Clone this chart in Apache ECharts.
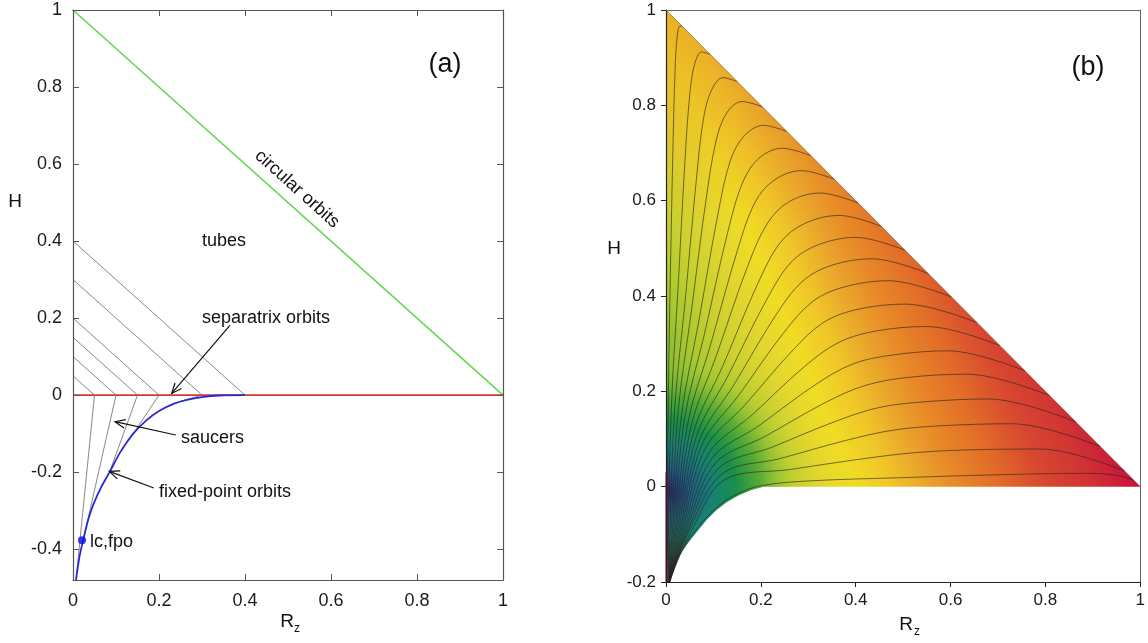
<!DOCTYPE html>
<html>
<head>
<meta charset="utf-8">
<title>Orbit families in the (Rz, H) plane</title>
<script src="https://cdn.jsdelivr.net/npm/echarts@6.0.0/dist/echarts.min.js"></script>
<style>
  html, body { margin: 0; padding: 0; background: #fff; }
  #main { width: 1148px; height: 643px; }
</style>
</head>
<body>
<div id="main"></div>
<script>
// ---- panel (a) ----
var circularOrbits = [[0, 1], [1, 0]];
var zeroLine = [[0, 0], [1, 0]];
var separatrixLevels = [0.05, 0.1, 0.15, 0.2, 0.3, 0.4];   // H where each separatrix leaves the axis
var saucerEnds = [[0.007, -0.48], [0.024, -0.375], [0.085, -0.2], [0.14, -0.1], [0.25, -0.016]];
var fixedPointCurve = [[0.007, -0.48], [0.015, -0.42], [0.024, -0.375], [0.035, -0.325], [0.047, -0.285],
    [0.065, -0.24], [0.085, -0.2], [0.11, -0.148], [0.14, -0.1], [0.17, -0.066], [0.2, -0.041],
    [0.235, -0.022], [0.265, -0.012], [0.3, -0.005], [0.34, -0.001], [0.4, 0]];
var lcFpo = [[0.021, -0.377]];
// arrows: tail x, tail y, tip x, tip y
var arrows = [[0.365, 0.181, 0.2295, 0.0044], [0.239, -0.1035, 0.0977, -0.069], [0.188, -0.241, 0.0844, -0.198]];
var ticksA = [-0.4, -0.2, 0, 0.2, 0.4, 0.6, 0.8, 1];

// ---- panel (b) ----
var regionEdge = [[0, 1], [1, 0], [0.205, 0], [0.18, -0.007], [0.153, -0.018], [0.128, -0.032], [0.105, -0.05],
    [0.085, -0.07], [0.067, -0.092], [0.05, -0.113], [0.035, -0.134], [0.025, -0.152], [0.017, -0.172],
    [0.012, -0.187], [0.009, -0.2], [0, -0.2]];
var hypEdge = [[0, 1], [1, 0]];
var edgeStrip = [[0.002, 0.03], [0.002, -0.2]];
var contours = [
    [[0.007, -0.2], [0.003, -0.1], [0.005, 0.194], [0.009, 0.436], [0.015, 0.726], [0.019, 0.871], [0.023, 0.939], [0.029, 0.966], [0.034, 0.966]],
    [[0.007, -0.2], [0.0055, -0.1], [0.012, 0.182], [0.025, 0.41], [0.040, 0.684], [0.050, 0.821], [0.060, 0.885], [0.075, 0.912], [0.093, 0.907]],
    [[0.007, -0.2], [0.008, -0.1], [0.019, 0.172], [0.040, 0.386], [0.064, 0.644], [0.079, 0.772], [0.096, 0.832], [0.120, 0.858], [0.150, 0.850]],
    [[0.007, -0.2], [0.0105, -0.1], [0.026, 0.162], [0.053, 0.364], [0.085, 0.606], [0.106, 0.727], [0.128, 0.784], [0.160, 0.808], [0.203, 0.797]],
    [[0.007, -0.2], [0.013, -0.1], [0.033, 0.152], [0.068, 0.341], [0.109, 0.569], [0.135, 0.682], [0.164, 0.735], [0.205, 0.758], [0.255, 0.745]],
    [[0.007, -0.2], [0.0155, -0.1], [0.039, 0.142], [0.081, 0.320], [0.130, 0.533], [0.162, 0.639], [0.196, 0.689], [0.245, 0.710], [0.306, 0.694]],
    [[0.007, -0.2], [0.018, -0.1], [0.046, 0.133], [0.094, 0.298], [0.151, 0.497], [0.188, 0.597], [0.228, 0.643], [0.285, 0.663], [0.355, 0.645]],
    [[0.007, -0.2], [0.0205, -0.1], [0.052, 0.123], [0.107, 0.277], [0.172, 0.462], [0.215, 0.554], [0.260, 0.598], [0.325, 0.616], [0.405, 0.595]],
    [[0.007, -0.2], [0.023, -0.1], [0.058, 0.114], [0.121, 0.256], [0.194, 0.427], [0.241, 0.512], [0.292, 0.552], [0.365, 0.569], [0.454, 0.546]],
    [[0.007, -0.2], [0.0255, -0.1], [0.064, 0.105], [0.132, 0.235], [0.212, 0.392], [0.264, 0.471], [0.320, 0.507], [0.400, 0.523], [0.504, 0.496]],
    [[0.007, -0.2], [0.028, -0.1], [0.070, 0.096], [0.144, 0.215], [0.231, 0.359], [0.287, 0.430], [0.348, 0.464], [0.435, 0.478], [0.553, 0.447]],
    [[0.007, -0.2], [0.0305, -0.1], [0.075, 0.086], [0.155, 0.194], [0.249, 0.324], [0.310, 0.389], [0.376, 0.419], [0.470, 0.432], [0.602, 0.398]],
    [[0.007, -0.2], [0.033, -0.1], [0.081, 0.077], [0.167, 0.172], [0.268, 0.287], [0.333, 0.345], [0.404, 0.372], [0.505, 0.383], [0.656, 0.344]],
    [[0.007, -0.2], [0.0355, -0.1], [0.088, 0.067], [0.182, 0.151], [0.292, 0.252], [0.363, 0.302], [0.440, 0.326], [0.550, 0.336], [0.704, 0.296]],
    [[0.007, -0.2], [0.038, -0.1], [0.095, 0.057], [0.196, 0.128], [0.315, 0.214], [0.393, 0.257], [0.476, 0.276], [0.595, 0.285], [0.757, 0.243]],
    [[0.007, -0.2], [0.0405, -0.1], [0.102, 0.047], [0.210, 0.106], [0.337, 0.177], [0.419, 0.212], [0.508, 0.229], [0.635, 0.236], [0.809, 0.191]],
    [[0.007, -0.2], [0.043, -0.1], [0.109, 0.037], [0.224, 0.083], [0.360, 0.138], [0.449, 0.166], [0.544, 0.178], [0.680, 0.184], [0.864, 0.136]],
    [[0.007, -0.2], [0.0455, -0.1], [0.117, 0.026], [0.241, 0.059], [0.387, 0.099], [0.482, 0.119], [0.584, 0.128], [0.730, 0.132], [0.916, 0.084]],
    [[0.007, -0.2], [0.05, -0.10], [0.126, 0.016], [0.261, 0.036], [0.419, 0.059], [0.521, 0.071], [0.632, 0.077], [0.790, 0.079], [0.967, 0.033]],
    [[0.009, -0.198], [0.020, -0.165], [0.037, -0.127], [0.067, -0.086], [0.105, -0.045], [0.150, -0.015], [0.200, 0.002],
     [0.300, 0.012], [0.500, 0.019], [0.700, 0.025], [0.880, 0.028], [0.950, 0.024], [0.985, 0.014]]
];

var FONT = "'Liberation Sans', Arial, Helvetica, sans-serif";

function lineSeries(ax, data, color, width, z, smooth) {
    return {
        type: 'line', xAxisIndex: ax, yAxisIndex: ax, data: data,
        symbol: 'none', smooth: smooth || false, silent: true, z: z || 3,
        lineStyle: { color: color, width: width },
        emphasis: { disabled: true }
    };
}

// filled region of panel (b), one layer per colour wash
function regionLayer(fill, z) {
    return {
        type: 'custom', xAxisIndex: 2, yAxisIndex: 2, z: z, silent: true,
        data: [[0, 0]],
        renderItem: function (params, api) {
            var pts = regionEdge.map(function (p) { return api.coord(p); });
            return { type: 'polygon', shape: { points: pts }, style: { fill: fill(api), stroke: null } };
        }
    };
}

var series = [];

// ---- panel (a) series ----
series.push(lineSeries(0, circularOrbits, '#63d84f', 1.6, 4));
series.push(lineSeries(0, zeroLine, '#d8353b', 1.6, 4));
separatrixLevels.forEach(function (h, i) {
    var pts = [[0, h], [h, 0]];
    if (i < saucerEnds.length) pts.push(saucerEnds[i]);
    series.push(lineSeries(0, pts, '#7a7a7a', 0.9, 3));
});
series.push(lineSeries(0, fixedPointCurve, '#2a2ad2', 1.8, 5, 0.3));
series.push({
    type: 'scatter', xAxisIndex: 0, yAxisIndex: 0, data: lcFpo, symbolSize: 8, z: 6, silent: true,
    itemStyle: { color: '#0b0be6' }
});
series.push({
    type: 'custom', xAxisIndex: 0, yAxisIndex: 0, z: 6, silent: true,
    data: arrows,
    renderItem: function (params, api) {
        var t = api.coord([api.value(0), api.value(1)]);
        var h = api.coord([api.value(2), api.value(3)]);
        var ang = Math.atan2(t[1] - h[1], t[0] - h[0]);
        var L = 11, w = 0.4;
        var p1 = [h[0] + L * Math.cos(ang + w), h[1] + L * Math.sin(ang + w)];
        var p2 = [h[0] + L * Math.cos(ang - w), h[1] + L * Math.sin(ang - w)];
        return {
            type: 'group', children: [
                { type: 'line', shape: { x1: t[0], y1: t[1], x2: h[0], y2: h[1] }, style: { stroke: '#111', lineWidth: 1.2 } },
                { type: 'polyline', shape: { points: [p1, h, p2] }, style: { stroke: '#111', lineWidth: 1.2, fill: null } }
            ]
        };
    }
});

// ---- panel (b) series ----
series.push(regionLayer(function (api) {
    var a = api.coord([0, 0]), b = api.coord([1, 0.42]);
    return {
        type: 'linear', x: a[0], y: a[1], x2: b[0], y2: b[1], global: true,
        colorStops: [
            { offset: 0, color: '#3a9a40' }, { offset: 0.15, color: '#a8c830' },
            { offset: 0.21, color: '#c8d030' }, { offset: 0.28, color: '#e2d62e' },
            { offset: 0.34, color: '#f0dc24' }, { offset: 0.40, color: '#f0c828' },
            { offset: 0.46, color: '#eaa82c' }, { offset: 0.52, color: '#e88a28' },
            { offset: 0.60, color: '#e26c28' }, { offset: 0.68, color: '#d84830' },
            { offset: 0.77, color: '#d03034' }, { offset: 0.85, color: '#c8103e' },
            { offset: 1, color: '#c00c3c' }
        ]
    };
}, 1));
series.push(regionLayer(function (api) {
    var a = api.coord([0, 0.55]), b = api.coord([0, 1]);
    return {
        type: 'linear', x: a[0], y: a[1], x2: b[0], y2: b[1], global: true,
        colorStops: [{ offset: 0, color: 'rgba(228,140,40,0)' }, { offset: 1, color: 'rgba(228,140,40,0.5)' }]
    };
}, 1));
series.push(regionLayer(function (api) {
    var c = api.coord([0, -0.01]), r = api.coord([0.33, 0])[0] - api.coord([0, 0])[0];
    return {
        type: 'radial', x: c[0], y: c[1], r: r, global: true,
        colorStops: [
            { offset: 0, color: '#1c2258' }, { offset: 0.05, color: '#1f3a78' },
            { offset: 0.15, color: '#1f6088' }, { offset: 0.3, color: '#168275' },
            { offset: 0.45, color: '#1a9048' }, { offset: 0.6, color: 'rgba(70,165,55,0.85)' },
            { offset: 0.8, color: 'rgba(150,200,50,0.35)' }, { offset: 1, color: 'rgba(200,210,50,0)' }
        ]
    };
}, 1));
series.push(regionLayer(function (api) {
    var c = api.coord([0, -0.2]), r = api.coord([0.12, 0])[0] - api.coord([0, 0])[0];
    return {
        type: 'radial', x: c[0], y: c[1], r: r, global: true,
        colorStops: [
            { offset: 0, color: 'rgba(40,50,120,0.85)' }, { offset: 0.5, color: 'rgba(40,95,145,0.55)' },
            { offset: 1, color: 'rgba(40,95,145,0)' }
        ]
    };
}, 1));
series.push(lineSeries(2, edgeStrip, '#7d2a55', 3, 2));
contours.forEach(function (c) {
    series.push(lineSeries(2, c, 'rgba(45,38,28,0.7)', 0.9, 4, 0.35));
});
series.push(lineSeries(2, hypEdge, 'rgba(90,55,25,0.5)', 1, 4));

function labelStyle(size) {
    return { color: '#1a1a1a', fontSize: size, fontFamily: FONT };
}

function txt(s, x, y, size, align) {
    return {
        type: 'text', x: x, y: y, z: 20,
        style: { text: s, fontSize: size, fontFamily: FONT, fill: '#111', align: align || 'center', verticalAlign: 'middle' }
    };
}

var option = {
    animation: false,
    backgroundColor: '#ffffff',
    grid: [
        { left: 73, top: 10, width: 430, height: 570 },
        { left: 666, top: 10, width: 477, height: 572 }
    ],
    xAxis: [
        {   // (a) bottom
            gridIndex: 0, type: 'value', min: 0, max: 1, interval: 0.2, position: 'bottom', z: 10,
            axisLine: { onZero: false, lineStyle: { color: '#555', width: 1.2 } },
            axisTick: { inside: true, length: 6, lineStyle: { color: '#555' } },
            axisLabel: Object.assign({ margin: 12 }, labelStyle(18)),
            splitLine: { show: false }
        },
        {   // (a) top
            gridIndex: 0, type: 'value', min: 0, max: 1, interval: 0.2, position: 'top', z: 10,
            axisLine: { onZero: false, lineStyle: { color: '#555', width: 1.2 } },
            axisTick: { inside: true, length: 6, lineStyle: { color: '#555' } },
            axisLabel: { show: false }, splitLine: { show: false }
        },
        {   // (b) bottom
            gridIndex: 1, type: 'value', min: 0, max: 1, interval: 0.2, position: 'bottom', z: 10,
            axisLine: { onZero: false, lineStyle: { color: '#222', width: 1.2 } },
            axisTick: { inside: false, length: 5, lineStyle: { color: '#222' } },
            axisLabel: Object.assign({ margin: 10 }, labelStyle(17)),
            splitLine: { show: false }
        },
        {   // (b) top
            gridIndex: 1, type: 'value', min: 0, max: 1, position: 'top', z: 10,
            axisLine: { onZero: false, lineStyle: { color: '#666', width: 1 } },
            axisTick: { show: false }, axisLabel: { show: false }, splitLine: { show: false }
        }
    ],
    yAxis: [
        {   // (a) left
            gridIndex: 0, type: 'value', min: -0.48, max: 1, position: 'left', z: 10,
            axisLine: { onZero: false, lineStyle: { color: '#555', width: 1.2 } },
            axisTick: { inside: true, length: 6, customValues: ticksA, lineStyle: { color: '#555' } },
            axisLabel: Object.assign({ margin: 11, customValues: ticksA }, labelStyle(18)),
            splitLine: { show: false }
        },
        {   // (a) right
            gridIndex: 0, type: 'value', min: -0.48, max: 1, position: 'right', z: 10,
            axisLine: { onZero: false, lineStyle: { color: '#555', width: 1.2 } },
            axisTick: { inside: true, length: 6, customValues: ticksA, lineStyle: { color: '#555' } },
            axisLabel: { show: false }, splitLine: { show: false }
        },
        {   // (b) left
            gridIndex: 1, type: 'value', min: -0.2, max: 1, interval: 0.2, position: 'left', z: 10,
            axisLine: { onZero: false, lineStyle: { color: '#222', width: 1.2 } },
            axisTick: { inside: false, length: 5, lineStyle: { color: '#222' } },
            axisLabel: Object.assign({ margin: 10 }, labelStyle(17)),
            splitLine: { show: false }
        },
        {   // (b) right
            gridIndex: 1, type: 'value', min: -0.2, max: 1, position: 'right', z: 10,
            axisLine: { onZero: false, lineStyle: { color: '#666', width: 1 } },
            axisTick: { show: false }, axisLabel: { show: false }, splitLine: { show: false }
        }
    ],
    graphic: [
        txt('(a)', 445, 65, 27),
        txt('(b)', 1088, 68, 27),
        txt('tubes', 202, 241, 18, 'left'),
        txt('separatrix orbits', 202, 318, 18, 'left'),
        txt('saucers', 181, 438, 18, 'left'),
        txt('fixed-point orbits', 159, 492, 18, 'left'),
        txt('lc,fpo', 90, 542, 18, 'left'),
        { type: 'text', x: 297, y: 189, rotation: -0.733, z: 20,
          style: { text: 'circular orbits', fontSize: 18, fontFamily: FONT, fill: '#111', align: 'center', verticalAlign: 'middle' } },
        txt('H', 15, 202, 19),
        txt('R', 287, 622, 19),
        txt('z', 297, 629, 12),
        txt('H', 614, 249, 19),
        txt('R', 906, 625, 19),
        txt('z', 917, 632, 12)
    ],
    series: series
};

var chart = echarts.init(document.getElementById('main'));
chart.setOption(option);
</script>
</body>
</html>
